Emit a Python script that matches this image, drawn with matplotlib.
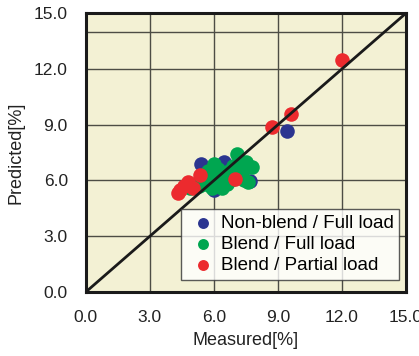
import matplotlib
matplotlib.use("Agg")
import matplotlib.pyplot as plt

plt.rcParams['font.family'] = ['Liberation Sans', 'DejaVu Sans']

# data (measured, predicted) in %
nonblend_full_x = [5.4, 6.45, 7.7, 6.0, 9.4]
nonblend_full_y = [6.9, 7.0, 5.95, 5.5, 8.65]

blend_full_x = [4.9, 5.1, 5.3, 5.5, 5.6, 5.8, 5.9, 6.0, 6.1, 6.2, 6.3, 6.4, 6.5, 6.6,
                6.7, 6.8, 6.9, 7.0, 7.1, 7.2, 7.3, 7.4, 7.6, 7.8, 7.5, 6.0, 5.7]
blend_full_y = [5.6, 5.8, 5.7, 6.0, 5.8, 6.2, 5.6, 6.4, 5.9, 6.6, 6.1, 5.6, 6.3, 5.8,
                6.5, 6.0, 6.8, 6.2, 7.4, 6.9, 6.4, 6.0, 5.9, 6.7, 7.0, 6.9, 6.5]

blend_partial_x = [4.3, 4.4, 4.6, 4.8, 5.0, 5.35, 7.0, 8.7, 9.6, 12.0]
blend_partial_y = [5.3, 5.5, 5.7, 5.9, 5.6, 6.3, 6.1, 8.9, 9.6, 12.5]

ticks = [0.0, 3.0, 6.0, 9.0, 12.0, 15.0]
tick_labels = ["0.0", "3.0", "6.0", "9.0", "12.0", "15.0"]

fig = plt.figure(figsize=(4.19, 3.56), dpi=100)
ax = fig.add_axes([0.205, 0.180, 0.764, 0.783])
ax.set_facecolor("#f3f1d4")

for v in [3, 6, 9, 12]:
    ax.axvline(v, color="#4d4d45", lw=1.0, zorder=1)
for v in [3, 6, 9, 12, 14]:
    ax.axhline(v, color="#4d4d45", lw=1.0, zorder=1)

ax.scatter(nonblend_full_x, nonblend_full_y, s=110, color="#2b3590", lw=0,
           label="Non-blend / Full load", zorder=2)
ax.scatter(blend_full_x, blend_full_y, s=110, color="#00a650", lw=0,
           label="Blend / Full load", zorder=3)
ax.scatter(blend_partial_x, blend_partial_y, s=110, color="#ec2a2e", lw=0,
           label="Blend / Partial load", zorder=4)

ax.plot([0, 15], [0, 15], color="#1a1a1a", lw=2.0, zorder=5)

ax.set_xlim(0, 15)
ax.set_ylim(0, 15)
ax.set_xticks(ticks)
ax.set_xticklabels(tick_labels)
ax.set_yticks(ticks)
ax.set_yticklabels(tick_labels)
ax.tick_params(length=0, pad=13, labelsize=12.5, colors="#222222")
for s in ax.spines.values():
    s.set_linewidth(2.2)
    s.set_color("#1a1a1a")

ax.set_xlabel("Measured[%]", fontsize=13, color="#222222", labelpad=5)
ax.set_ylabel("Predicted[%]", fontsize=13, color="#222222", labelpad=7)

leg = ax.legend(loc="lower right", bbox_to_anchor=(0.99, 0.03), fontsize=13.5,
                frameon=True, fancybox=False, edgecolor="#333333",
                handletextpad=0.1, borderpad=0.3, labelspacing=0.22,
                handlelength=1.7, markerscale=0.75, borderaxespad=0.2)
leg.get_frame().set_linewidth(1.0)
leg.set_zorder(10)

fig.savefig("out.png", dpi=100)
